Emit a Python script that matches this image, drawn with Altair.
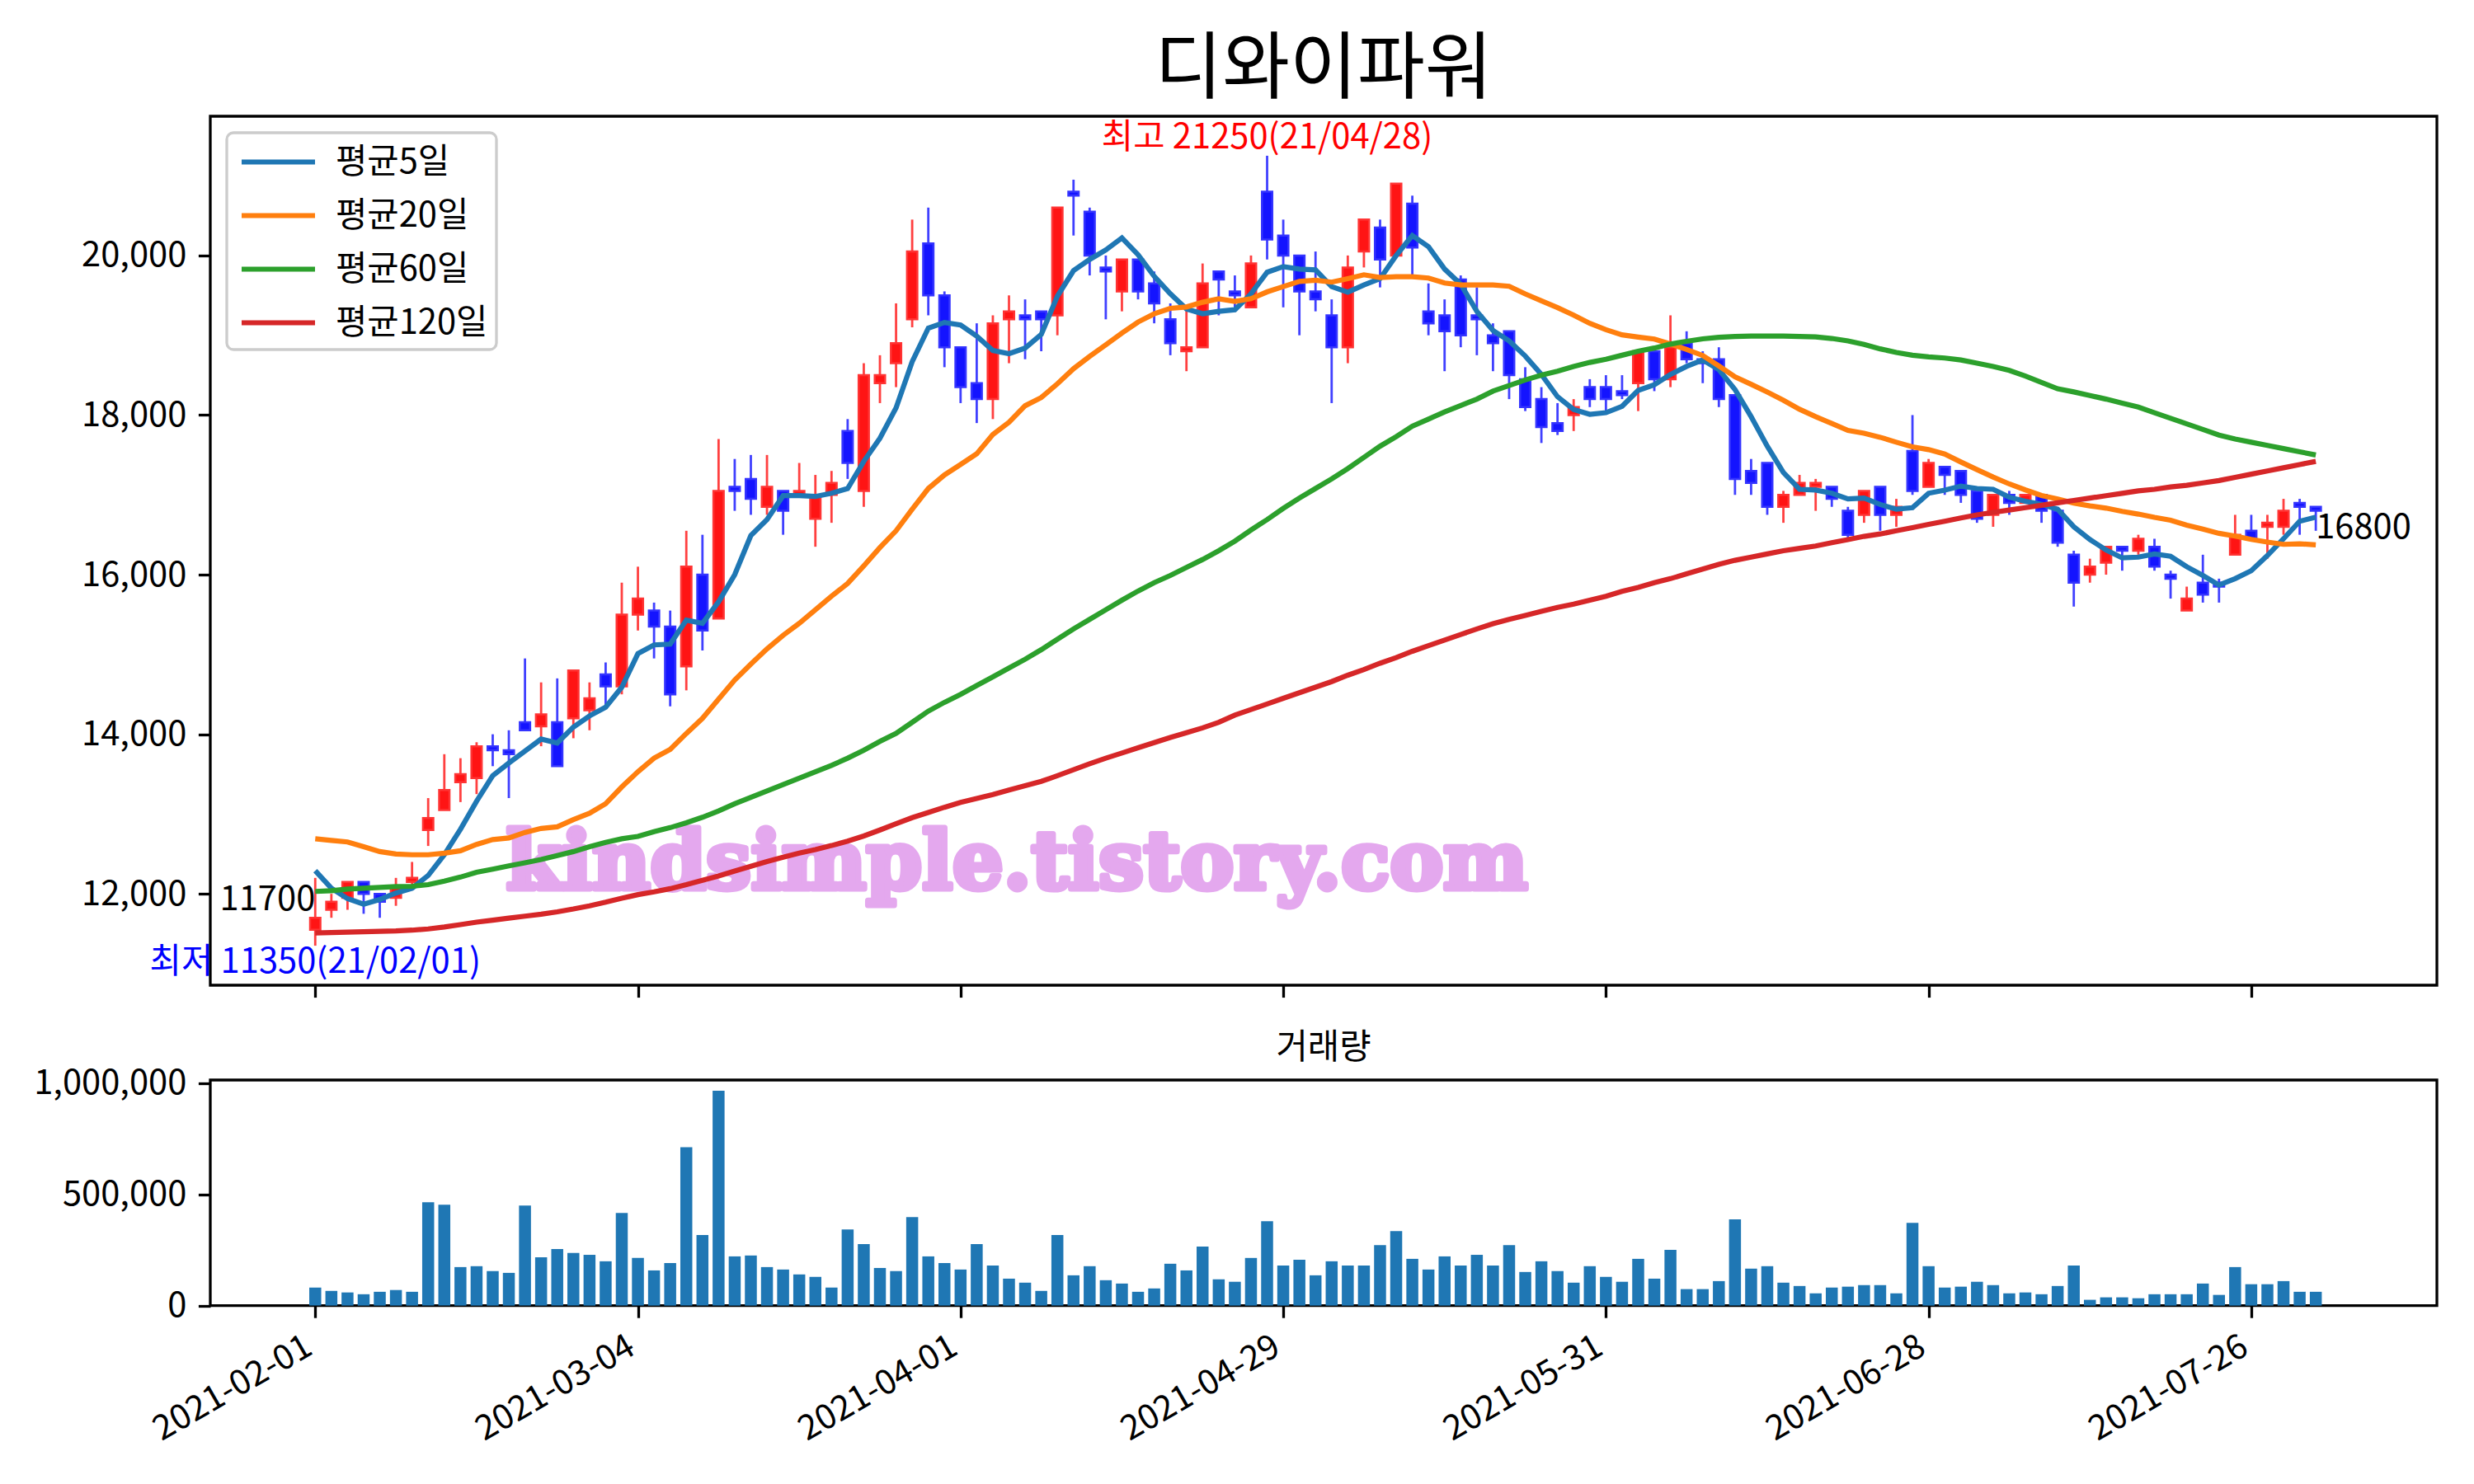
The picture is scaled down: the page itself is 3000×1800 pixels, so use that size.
import altair as alt
import pandas as pd

FONT = "Noto Sans CJK KR"

# ---- data ----
tick_idx = [0, 20, 40, 60, 80, 100, 120]
date_labels = ["2021-02-01", "2021-03-04", "2021-04-01", "2021-04-29",
               "2021-05-31", "2021-06-28", "2021-07-26"]

opens = [11550, 11800, 11950, 12150, 12000, 11950, 12150, 12800, 13050, 13400,
         13450, 13850, 13800, 14150, 14100, 14150, 14200, 14300, 14750, 14600,
         15500, 15550, 15350, 14850, 16000, 15450, 17100, 17200, 16850, 17050,
         17000, 16700, 17000, 17800, 17050, 18400, 18650, 19200, 20150, 19500,
         18850, 18400, 18200, 19200, 19250, 19300, 19250, 20800, 20550, 19850,
         19550, 19950, 19650, 19200, 18800, 18850, 19800, 19550, 19350, 20800,
         20250, 20000, 19550, 19250, 18850, 20050, 20350, 20000, 20650, 19300,
         19250, 19700, 19250, 19000, 19050, 18450, 18200, 17900, 18000, 18350,
         18350, 18300, 18400, 18800, 18450, 18900, 18700, 18700, 18250, 17300,
         17400, 16850, 17000, 17100, 17100, 16800, 16750, 17100, 16750, 17550,
         17100, 17350, 17300, 17050, 16750, 17000, 16900, 17000, 16800, 16250,
         16000, 16150, 16350, 16300, 16350, 16000, 15550, 15900, 15900, 16250,
         16550, 16600, 16600, 16900, 16850]
highs = [12200, 12000, 12150, 12150, 12000, 12200, 12400, 13200, 13750, 13700,
         13900, 14000, 14050, 14950, 14650, 14700, 14800, 14650, 14900, 15900,
         16100, 15650, 15550, 16550, 16500, 17700, 17450, 17500, 17500, 17050,
         17400, 17250, 17300, 17950, 18650, 18750, 19400, 20450, 20600, 19550,
         18850, 19150, 19250, 19500, 19450, 19300, 20600, 20950, 20600, 20000,
         19950, 19950, 19800, 19400, 19350, 19900, 19800, 19750, 20000, 21250,
         20450, 20000, 20050, 19450, 20000, 20450, 20450, 20900, 20750, 19650,
         19450, 19750, 19600, 19150, 19050, 18600, 18350, 18150, 18200, 18450,
         18500, 18500, 18800, 18800, 19250, 19050, 18800, 18850, 18250, 17450,
         17400, 17050, 17250, 17200, 17100, 16850, 17050, 17100, 16950, 18000,
         17450, 17350, 17300, 17050, 17000, 17050, 17000, 17000, 16850, 16300,
         16200, 16350, 16350, 16500, 16450, 16050, 15850, 16250, 15950, 16750,
         16750, 16750, 16950, 16950, 16850]
lows = [11350, 11700, 11800, 11750, 11700, 11850, 12100, 12600, 13050, 13150,
        13250, 13600, 13200, 14050, 13850, 13600, 13950, 14050, 14350, 14500,
        15300, 14950, 14350, 14550, 15050, 15450, 16800, 16750, 16750, 16500,
        17000, 16350, 16650, 17200, 16850, 18150, 18350, 19100, 19250, 18600,
        18150, 17900, 17950, 18650, 18700, 18800, 19000, 20250, 19750, 19200,
        19300, 19450, 19150, 18750, 18550, 18850, 19250, 19350, 19350, 19950,
        19350, 19000, 19300, 18150, 18650, 19850, 19600, 20000, 19750, 19000,
        18550, 18850, 18750, 18550, 18200, 18050, 17650, 17750, 17800, 18100,
        18050, 18200, 18050, 18300, 18350, 18650, 18400, 18100, 17000, 17000,
        16750, 16650, 17000, 16800, 16850, 16450, 16650, 16550, 16600, 17000,
        17100, 17000, 16900, 16650, 16600, 16750, 16900, 16650, 16350, 15600,
        15900, 16000, 16050, 16250, 16050, 15700, 15550, 15650, 15650, 16250,
        16450, 16200, 16500, 16500, 16550]
closes = [11700, 11900, 12150, 12000, 11900, 12100, 12200, 12950, 13300, 13500,
          13850, 13800, 13750, 14050, 14250, 13600, 14800, 14450, 14600, 15500,
          15700, 15350, 14500, 16100, 15300, 17050, 17050, 16950, 17100, 16800,
          17050, 17000, 17150, 17400, 18500, 18500, 18900, 20050, 19500, 18850,
          18350, 18200, 19150, 19300, 19200, 19200, 20600, 20750, 20000, 19800,
          19950, 19550, 19400, 18900, 18850, 19650, 19700, 19500, 19900, 20200,
          20000, 19550, 19450, 18850, 19850, 20450, 19950, 20900, 20100, 19150,
          19050, 19000, 19200, 18900, 18500, 18100, 17850, 17800, 18100, 18200,
          18200, 18250, 18800, 18450, 18850, 18700, 18650, 18200, 17200, 17150,
          16850, 17000, 17150, 17150, 16950, 16500, 17050, 16750, 16850, 17050,
          17400, 17250, 17000, 16700, 17000, 16900, 17000, 16800, 16400, 15900,
          16100, 16350, 16300, 16450, 16100, 15950, 15700, 15750, 15850, 16500,
          16450, 16650, 16800, 16850, 16800]
volumes = [81000, 66000, 59000, 51000, 62000, 70000, 62000, 464000, 453000, 173000,
           177000, 155000, 147000, 449000, 217000, 254000, 236000, 228000, 199000, 416000,
           214000, 158000, 191000, 711000, 317000, 965000, 221000, 225000, 173000, 162000,
           140000, 129000, 81000, 342000, 276000, 169000, 155000, 398000, 221000, 191000,
           162000, 276000, 180000, 121000, 103000, 66000, 317000, 136000, 177000, 114000,
           99000, 62000, 77000, 188000, 158000, 265000, 118000, 107000, 214000, 379000,
           180000, 206000, 136000, 199000, 180000, 180000, 272000, 335000, 210000, 162000,
           221000, 180000, 228000, 180000, 272000, 151000, 199000, 155000, 103000, 177000,
           129000, 107000, 210000, 121000, 250000, 74000, 74000, 110000, 387000, 166000,
           177000, 103000, 88000, 55000, 81000, 85000, 92000, 92000, 55000, 372000,
           177000, 81000, 85000, 107000, 92000, 55000, 59000, 51000, 88000, 180000,
           26000, 37000, 37000, 33000, 51000, 51000, 51000, 99000, 48000, 173000,
           96000, 96000, 110000, 62000, 62000]
ma5 = [12290, 12070, 11940, 11870, 11930, 12010, 12070, 12230, 12490, 12810,
       13160, 13480, 13640, 13790, 13940, 13890, 14090, 14230, 14340, 14590,
       15010, 15120, 15130, 15430, 15390, 15660, 16000, 16490, 16690, 16990,
       16990, 16980, 17020, 17080, 17420, 17710, 18090, 18670, 19090, 19160,
       19130, 18990, 18810, 18770, 18840, 19010, 19490, 19810, 19950, 20070,
       20220, 20010, 19740, 19520, 19330, 19270, 19300, 19320, 19520, 19790,
       19860, 19830, 19820, 19610, 19540, 19630, 19710, 20000, 20250, 20110,
       19830, 19640, 19300, 19060, 18930, 18740, 18510, 18230, 18070, 18010,
       18030, 18110, 18310, 18380, 18510, 18610, 18690, 18570, 18320, 17980,
       17610, 17280, 17070, 17060, 17020, 16950, 16960, 16880, 16820, 16840,
       17020, 17060, 17110, 17080, 17070, 16970, 16920, 16880, 16820, 16600,
       16440, 16310, 16210, 16220, 16260, 16230, 16100, 15990, 15870, 15950,
       16050, 16240, 16450, 16670, 16720]
ma20 = [12690, 12670, 12650, 12590, 12530, 12500, 12490, 12490, 12510, 12540,
        12620, 12680, 12700, 12770, 12820, 12840, 12930, 13010, 13130, 13340,
        13530, 13700, 13810, 14010, 14200, 14440, 14680, 14880, 15070, 15240,
        15390, 15560, 15730, 15890, 16110, 16340, 16550, 16820, 17080, 17250,
        17380, 17515, 17756, 17910, 18117, 18220, 18392, 18581, 18736, 18880,
        19028, 19166, 19269, 19338, 19355, 19414, 19458, 19424, 19458, 19544,
        19610, 19675, 19690, 19666, 19710, 19758, 19724, 19734, 19734, 19717,
        19655, 19631, 19631, 19631, 19614, 19518, 19432, 19346, 19253, 19150,
        19070, 19005, 18977, 18953, 18891, 18823, 18747, 18616, 18479, 18386,
        18289, 18186, 18073, 17980, 17894, 17808, 17773, 17722, 17660, 17601,
        17567, 17512, 17412, 17316, 17223, 17137, 17062, 16993, 16948, 16896,
        16862, 16834, 16793, 16759, 16718, 16683, 16621, 16570, 16518, 16484,
        16442, 16408, 16380, 16387, 16374]
ma60 = [12030, 12040, 12060, 12070, 12080, 12090, 12095, 12115, 12160, 12210,
        12270, 12310, 12350, 12390, 12430, 12480, 12530, 12590, 12645, 12690,
        12720, 12780, 12830, 12890, 12960, 13040, 13130, 13210, 13290, 13370,
        13450, 13530, 13610, 13700, 13800, 13910, 14010, 14150, 14290, 14400,
        14500, 14610, 14720, 14830, 14940, 15060, 15190, 15320, 15440, 15560,
        15680, 15795, 15900, 15990, 16090, 16190, 16300, 16420, 16560, 16690,
        16830, 16960, 17080, 17200, 17330, 17470, 17610, 17730, 17860, 17950,
        18040, 18120, 18200, 18300, 18370, 18440, 18500, 18550, 18610, 18660,
        18700, 18750, 18800, 18840, 18890, 18925, 18955, 18975, 18985, 18990,
        18990, 18990, 18985, 18980, 18960, 18930, 18885, 18830, 18785, 18750,
        18730, 18715, 18690, 18650, 18610, 18560, 18490, 18410, 18330, 18290,
        18245, 18200, 18150, 18100, 18030, 17960, 17890, 17820, 17750, 17700,
        17660, 17620, 17580, 17540, 17500]
ma120 = [11510, 11515, 11520, 11525, 11530, 11535, 11545, 11560, 11585, 11615,
         11645, 11670, 11695, 11720, 11745, 11775, 11810, 11850, 11895, 11945,
         11990, 12025, 12065, 12115, 12170, 12225, 12285, 12345, 12405, 12460,
         12510, 12555, 12605, 12660, 12725, 12800, 12880, 12955, 13020, 13085,
         13145, 13195, 13245, 13300, 13355, 13410, 13480, 13555, 13630, 13700,
         13765, 13830, 13895, 13960, 14020, 14080, 14150, 14240, 14310, 14380,
         14450, 14520, 14590, 14660, 14740, 14810, 14890, 14960, 15040, 15110,
         15180, 15250, 15320, 15385, 15440, 15490, 15540, 15590, 15630, 15680,
         15730, 15790, 15840, 15900, 15950, 16010, 16070, 16130, 16180, 16220,
         16260, 16300, 16330, 16360, 16400, 16440, 16480, 16510, 16550, 16590,
         16630, 16670, 16710, 16750, 16780, 16810, 16840, 16870, 16900, 16930,
         16960, 16990, 17020, 17050, 17070, 17100, 17120, 17150, 17180, 17220,
         17260, 17300, 17340, 17380, 17420]

ma_names = ["평균5일", "평균20일", "평균60일", "평균120일"]
ma_colors = ["#1f77b4", "#ff7f0e", "#2ca02c", "#d62728"]

hi_date = "21/04/28"
lo_date = "21/02/01"
watermark_text = "kindsimple.tistory.com"
watermark_pos = [43.5, 12063]   # (trading-day index, price)

# ---- tables ----
n = len(closes)
idx = list(range(n))
candles = pd.DataFrame({"i": idx, "open": opens, "high": highs,
                        "low": lows, "close": closes})
vol = pd.DataFrame({"i": idx, "volume": volumes})
rows = []
for name, series in zip(ma_names, [ma5, ma20, ma60, ma120]):
    for i, v in enumerate(series):
        rows.append({"i": i, "value": v, "name": name})
ma_df = pd.DataFrame(rows)

hi_i = highs.index(max(highs))
lo_i = lows.index(min(lows))
ann_hi = pd.DataFrame({"i": [hi_i], "v": [highs[hi_i]],
                       "t": [f"최고 {highs[hi_i]}({hi_date})"]})
ann_lo = pd.DataFrame({"i": [lo_i], "v": [lows[lo_i]],
                       "t": [f"최저 {lows[lo_i]}({lo_date})"]})
ann_first = pd.DataFrame({"i": [0], "v": [closes[0]], "t": [str(closes[0])]})
ann_last = pd.DataFrame({"i": [n - 1], "v": [closes[-1]], "t": [str(closes[-1])]})
wm = pd.DataFrame({"i": [watermark_pos[0]], "v": [watermark_pos[1]], "t": [watermark_text]})

# ---- scales & axes ----
FS = 41.7
x_scale = alt.Scale(domain=[-6.25, 131.25], nice=False, zero=False)
y_scale = alt.Scale(domain=[10855, 21745], nice=False, zero=False)
v_scale = alt.Scale(domain=[0, 1013250], nice=False, zero=False)

common_axis = dict(grid=False, domain=False, title=None, tickSize=14.6, tickWidth=3.3,
                   tickColor="black", labelColor="black", labelFont=FONT,
                   labelFontSize=FS, labelLimit=600)
x_axis_top = alt.Axis(values=tick_idx, labels=False, **common_axis)
label_expr = ("[" + ",".join(f"'{d}'" for d in date_labels) + "][indexof(["
              + ",".join(str(t) for t in tick_idx) + "], datum.value)]")
x_axis_bottom = alt.Axis(values=tick_idx, labelExpr=label_expr, labelAngle=330,
                         labelAlign="right", labelBaseline="top", labelPadding=14,
                         labelOffset=-18, labelOverlap=False, **common_axis)
y_axis = alt.Axis(values=[12000, 14000, 16000, 18000, 20000], format=",d",
                  labelPadding=14.6, minExtent=245, maxExtent=245, **common_axis)
v_axis = alt.Axis(values=[0, 500000, 1000000], format=",d",
                  labelPadding=14.6, minExtent=245, maxExtent=245, **common_axis)

X = alt.X("i:Q", scale=x_scale, axis=x_axis_top)

def Y(field):
    return alt.Y(f"{field}:Q", scale=y_scale, axis=y_axis)

up = alt.datum.close >= alt.datum.open

watermark = alt.Chart(wm).mark_text(font="DejaVu Serif", fontWeight="bold", fontSize=97,
                                    color="#E4A8EE", stroke="#E4A8EE", strokeWidth=7,
                                    strokeJoin="round", align="center",
                                    baseline="alphabetic").encode(x=X, y=Y("v"), text="t:N")

wick = alt.Chart(candles).mark_rule(strokeWidth=2.8).encode(
    x=X, y=Y("low"), y2="high:Q",
    color=alt.condition(up, alt.value("#ff4040"), alt.value("#4040ff")))

body = alt.Chart(candles).mark_bar(size=12.5, strokeWidth=2.5).encode(
    x=X, y=Y("open"), y2="close:Q",
    fill=alt.condition(up, alt.value("#ff1414"), alt.value("#1414ff")),
    stroke=alt.condition(up, alt.value("#ff3434"), alt.value("#3434ff")))

lines = alt.Chart(ma_df).mark_line(strokeWidth=6.2).encode(
    x=X, y=Y("value"),
    color=alt.Color("name:N", scale=alt.Scale(domain=ma_names, range=ma_colors),
                    sort=ma_names, legend=alt.Legend(title=None)))

def txt(df, color, align, baseline):
    return alt.Chart(df).mark_text(font=FONT, fontSize=FS, color=color, align=align,
                                   baseline=baseline).encode(x=X, y=Y("v"), text="t:N")

t_hi = txt(ann_hi, "red", "center", "bottom")
t_lo = txt(ann_lo, "blue", "center", "top")
t_first = txt(ann_first, "black", "right", "bottom")
t_last = txt(ann_last, "black", "left", "top")

top = alt.layer(watermark, wick, body, lines, t_hi, t_lo, t_first, t_last).properties(
    width=2700, height=1054,
    title=alt.TitleParams("디와이파워", font=FONT, fontSize=89, fontWeight="normal",
                          color="black", anchor="middle", frame="group",
                          baseline="bottom", offset=-79))

bottom = alt.Chart(vol).mark_bar(size=14.5, color="#1f77b4").encode(
    x=alt.X("i:Q", scale=x_scale, axis=x_axis_bottom),
    y=alt.Y("volume:Q", scale=v_scale, axis=v_axis)).properties(
    width=2700, height=273.6,
    title=alt.TitleParams("거래량", font=FONT, fontSize=FS, fontWeight="normal",
                          color="black", anchor="middle", frame="group",
                          baseline="bottom", offset=-41))

chart = alt.vconcat(top, bottom, spacing=36).properties(
    padding={"left": 0, "top": 31, "right": 0, "bottom": 40},
    background="white"
).configure_view(stroke="black", strokeWidth=3.3).configure_legend(
    orient="top-left", offset=20, symbolType="M-2,0L2,0", symbolSize=1980,
    symbolOffset=27, symbolStrokeWidth=6.2, labelFont=FONT, labelFontSize=FS,
    labelColor="black", labelLimit=500, labelOffset=44, padding=10, rowPadding=17,
    cornerRadius=8, strokeColor="#cccccc", strokeWidth=3.3, fillColor="white")

chart.save("out.html", embed_options={"renderer": "svg", "actions": False})
